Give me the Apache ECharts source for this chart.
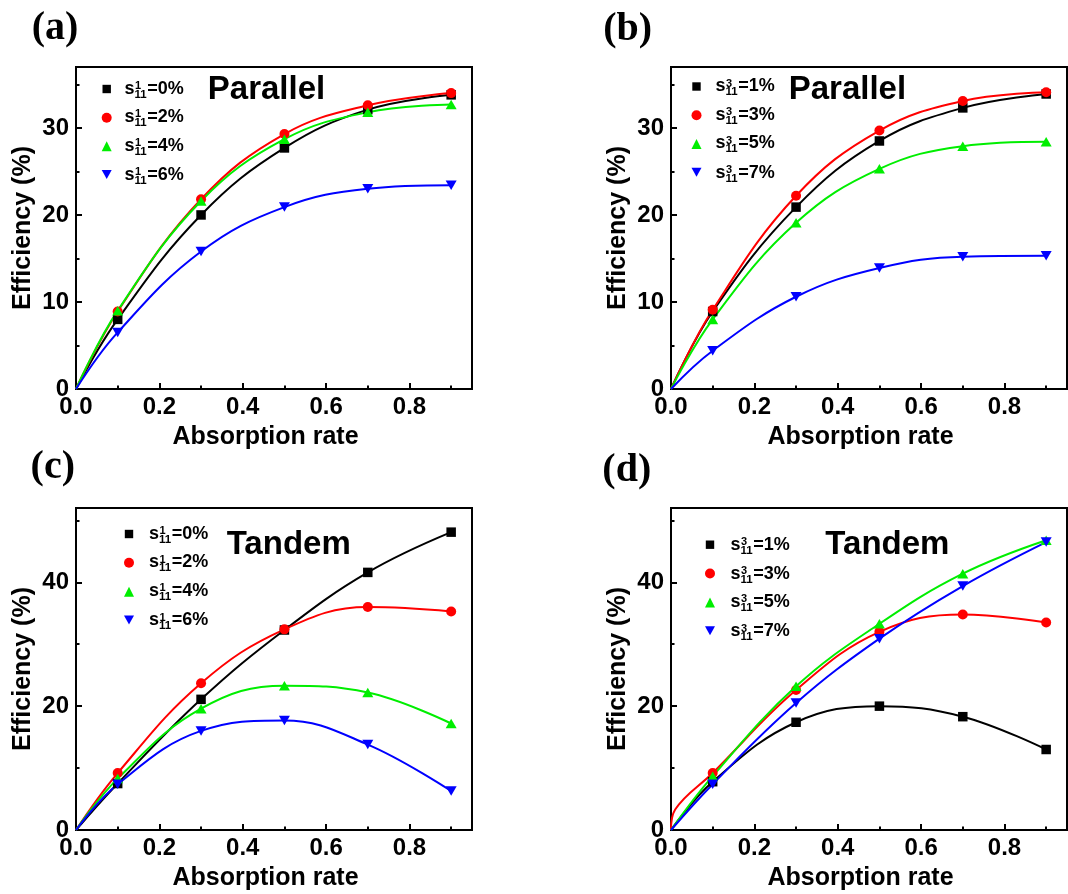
<!DOCTYPE html>
<html><head><meta charset="utf-8">
<script src="https://cdn.jsdelivr.net/npm/echarts@6/dist/echarts.min.js"></script>
<style>html,body{margin:0;padding:0;background:#fff}#c{width:1068px;height:894px}</style>
</head><body><div id="c"></div>
<script>
// ---------- data ----------
const xVals = [0, 0.1, 0.3, 0.5, 0.7, 0.9];
const xTickLabels = ['0.0', '0.2', '0.4', '0.6', '0.8'];
const yTickLabelsTop = ['0', '10', '20', '30'];
const yTickLabelsBottom = ['0', '20', '40'];

// (a) Parallel, s^1_11
const aNames = ['0%', '2%', '4%', '6%'];
const a0 = [0, 8.0, 20.0, 27.7, 32.1, 33.8];
const a2 = [0, 8.9, 21.8, 29.3, 32.6, 34.0];
const a4 = [0, 9.0, 21.6, 28.7, 31.8, 32.7];
const a6 = [0, 6.5, 15.8, 20.9, 23.0, 23.4];
// (b) Parallel, s^3_11
const bNames = ['1%', '3%', '5%', '7%'];
const b1 = [0, 8.9, 20.9, 28.5, 32.3, 33.9];
const b3 = [0, 9.1, 22.2, 29.7, 33.1, 34.1];
const b5 = [0, 8.0, 19.1, 25.3, 27.9, 28.4];
const b7 = [0, 4.4, 10.6, 13.9, 15.2, 15.3];
// (c) Tandem, s^1_11
const cNames = ['0%', '2%', '4%', '6%'];
const c0 = [0, 7.5, 21.1, 32.3, 41.6, 48.1];
const c2 = [0, 9.2, 23.7, 32.4, 36.0, 35.3];
const c4 = [0, 8.3, 19.6, 23.3, 22.2, 17.2];
const c6 = [0, 7.4, 16.0, 17.7, 13.8, 6.3];
// (d) Tandem, s^3_11
const dNames = ['1%', '3%', '5%', '7%'];
const d1 = [0, 7.8, 17.4, 20.0, 18.3, 13.0];
const d3x = [0, 0.01, 0.1, 0.3, 0.5, 0.7, 0.9];
const d3 = [0, 3.3, 9.2, 22.6, 32.0, 34.8, 33.5];
const d5 = [0, 8.7, 23.2, 33.3, 41.4, 46.8];
const d7 = [0, 7.4, 20.5, 30.9, 39.4, 46.5];

// ---------- styling ----------
const SANS = '"Liberation Sans", Arial, sans-serif';
const SERIF = '"Liberation Serif", "Times New Roman", serif';
const colors = ['#000000', '#ff0000', '#00ee00', '#0000ff'];
const downTri = 'path://M0,0L10,0L5,9Z';
const symbols = ['rect', 'circle', 'triangle', downTri];
const symSizes = [9.5, 10, [11, 9.5], [11, 9.5]];
const legendIcons = [
  'path://M0,0M10,10M0.8,0.8L9.2,0.8L9.2,9.2L0.8,9.2Z',
  'circle', 'triangle', 'path://M0,0L10,0L5,9Z'
];

const grids = [
  {left: 76, top: 67, width: 396, height: 322},
  {left: 671, top: 67, width: 396, height: 322},
  {left: 76, top: 508, width: 396, height: 322},
  {left: 671, top: 508, width: 396, height: 322}
];
const yCfg = [
  {max: 37, interval: 10}, {max: 37, interval: 10},
  {max: 52, interval: 20}, {max: 52, interval: 20}
];

const panels = [
  {key: 'a', sup: '1', names: aNames, sets: [[xVals, a0], [xVals, a2], [xVals, a4], [xVals, a6]],
   legend: {mx: 106.7, tx: 124.5, rows: [89, 116.7, 145.7, 175]},
   title: 'Parallel', tpos: [266.5, 90], label: '(a)', lpos: [55, 29]},
  {key: 'b', sup: '3', names: bNames, sets: [[xVals, b1], [xVals, b3], [xVals, b5], [xVals, b7]],
   legend: {mx: 696.5, tx: 715.5, rows: [86.5, 114.8, 143.5, 172.7]},
   title: 'Parallel', tpos: [847.4, 90], label: '(b)', lpos: [627.6, 30]},
  {key: 'c', sup: '1', names: cNames, sets: [[xVals, c0], [xVals, c2], [xVals, c4], [xVals, c6]],
   legend: {mx: 129, tx: 149, rows: [534, 562.3, 591, 620.5]},
   title: 'Tandem', tpos: [288.7, 545], label: '(c)', lpos: [52.8, 468]},
  {key: 'd', sup: '3', names: dNames, sets: [[xVals, d1], [d3x, d3], [xVals, d5], [xVals, d7]],
   legend: {mx: 710, tx: 730.5, rows: [544.7, 573.7, 602, 631.3]},
   title: 'Tandem', tpos: [887.4, 545], label: '(d)', lpos: [626.8, 471]}
];

const ctx = document.createElement('canvas').getContext('2d');
function tw(text, size) { ctx.font = 'bold ' + size + 'px ' + SANS; return ctx.measureText(text).width; }

const option = {
  backgroundColor: '#ffffff',
  animation: false,
  grid: [], xAxis: [], yAxis: [], series: [], legend: [], graphic: []
};

panels.forEach((p, gi) => {
  option.grid.push(Object.assign({show: true, borderColor: '#000', borderWidth: 2,
    containLabel: false, outerBoundsMode: 'none'}, grids[gi]));
  option.xAxis.push({
    gridIndex: gi, type: 'value', min: 0, max: 0.95, interval: 0.2,
    axisLine: {show: true, onZero: false, lineStyle: {color: '#000', width: 2}},
    axisTick: {show: true, inside: true, length: 6, lineStyle: {color: '#000', width: 2}},
    minorTick: {show: true, splitNumber: 2, length: 3.5, lineStyle: {color: '#000', width: 2}},
    splitLine: {show: false}, minorSplitLine: {show: false},
    axisLabel: {color: '#000', fontSize: 24, fontWeight: 'bold', fontFamily: SANS, margin: 6,
      formatter: v => { const k = Math.round(v * 5); return Math.abs(v * 5 - k) < 1e-6 ? xTickLabels[k] || '' : ''; }},
    name: 'Absorption rate', nameLocation: 'middle', nameGap: 36,
    nameTextStyle: {color: '#000', fontSize: 25, fontWeight: 'bold', fontFamily: SANS, padding: [0, 17, 0, 0]}
  });
  const yc = yCfg[gi];
  const ylabels = gi < 2 ? yTickLabelsTop : yTickLabelsBottom;
  option.yAxis.push({
    gridIndex: gi, type: 'value', min: 0, max: yc.max, interval: yc.interval,
    axisLine: {show: true, onZero: false, lineStyle: {color: '#000', width: 2}},
    axisTick: {show: true, inside: true, length: 6, lineStyle: {color: '#000', width: 2}},
    minorTick: {show: true, splitNumber: 2, length: 3.5, lineStyle: {color: '#000', width: 2}},
    splitLine: {show: false}, minorSplitLine: {show: false},
    axisLabel: {color: '#000', fontSize: 24, fontWeight: 'bold', fontFamily: SANS, margin: 7,
      formatter: v => { const k = Math.round(v / yc.interval); return Math.abs(v - k * yc.interval) < 1e-6 ? ylabels[k] || '' : ''; }},
    name: 'Efficiency (%)', nameLocation: 'middle', nameGap: 40, nameRotate: 90,
    nameTextStyle: {color: '#000', fontSize: 25, fontWeight: 'bold', fontFamily: SANS}
  });

  const legendData = [];
  p.sets.forEach((s, si) => {
    const [xs, ys] = s;
    const name = p.key + '_' + si;
    legendData.push({name: name, icon: legendIcons[si]});
    option.series.push({
      name: name, type: 'line', xAxisIndex: gi, yAxisIndex: gi,
      smooth: 0.4, showSymbol: true,
      symbol: symbols[si], symbolSize: symSizes[si],
      lineStyle: {color: colors[si], width: 2},
      itemStyle: {color: colors[si]},
      data: xs.map((x, i) => x < 0.05 ? {value: [x, ys[i]], symbol: 'none'} : [x, ys[i]])
    });
  });
  const L = p.legend;
  option.legend.push({
    orient: 'vertical', left: L.mx - 5, top: L.rows[0] - 5, padding: 0,
    itemWidth: 10, itemHeight: 10, itemGap: (L.rows[3] - L.rows[0]) / 3 - 10,
    data: legendData, formatter: () => '', selectedMode: false,
    textStyle: {fontSize: 2, lineHeight: 2}
  });

  // legend labels: s with stacked super/subscripts
  const ws = tw('s', 18), w11 = tw('11', 12);
  p.names.forEach((nm, i) => {
    const y = L.rows[i];
    option.graphic.push(
      {type: 'text', x: L.tx, y: y, style: {text: 's', fill: '#000', fontSize: 18, fontWeight: 'bold', fontFamily: SANS, align: 'left', verticalAlign: 'middle'}},
      {type: 'text', x: L.tx + ws + 0.5, y: y - 2.8, style: {text: p.sup, fill: '#000', fontSize: 11, fontWeight: 'bold', fontFamily: SANS, align: 'left', verticalAlign: 'middle'}},
      {type: 'text', x: L.tx + ws, y: y + 5.8, style: {text: '11', fill: '#000', fontSize: 11.5, fontWeight: 'bold', fontFamily: SANS, align: 'left', verticalAlign: 'middle'}},
      {type: 'text', x: L.tx + ws + w11, y: y, style: {text: '=' + nm, fill: '#000', fontSize: 18, fontWeight: 'bold', fontFamily: SANS, align: 'left', verticalAlign: 'middle'}}
    );
  });
  option.graphic.push(
    {type: 'text', x: p.tpos[0], y: p.tpos[1], style: {text: p.title, fill: '#000', fontSize: 33, fontWeight: 'bold', fontFamily: SANS, align: 'center', verticalAlign: 'middle'}},
    {type: 'text', x: p.lpos[0], y: p.lpos[1], style: {text: p.label, fill: '#000', fontSize: 40, fontWeight: 'bold', fontFamily: SERIF, align: 'center', verticalAlign: 'middle'}}
  );
});

const chart = echarts.init(document.getElementById('c'), null, {renderer: 'canvas'});
chart.setOption(option);
</script>
</body></html>
